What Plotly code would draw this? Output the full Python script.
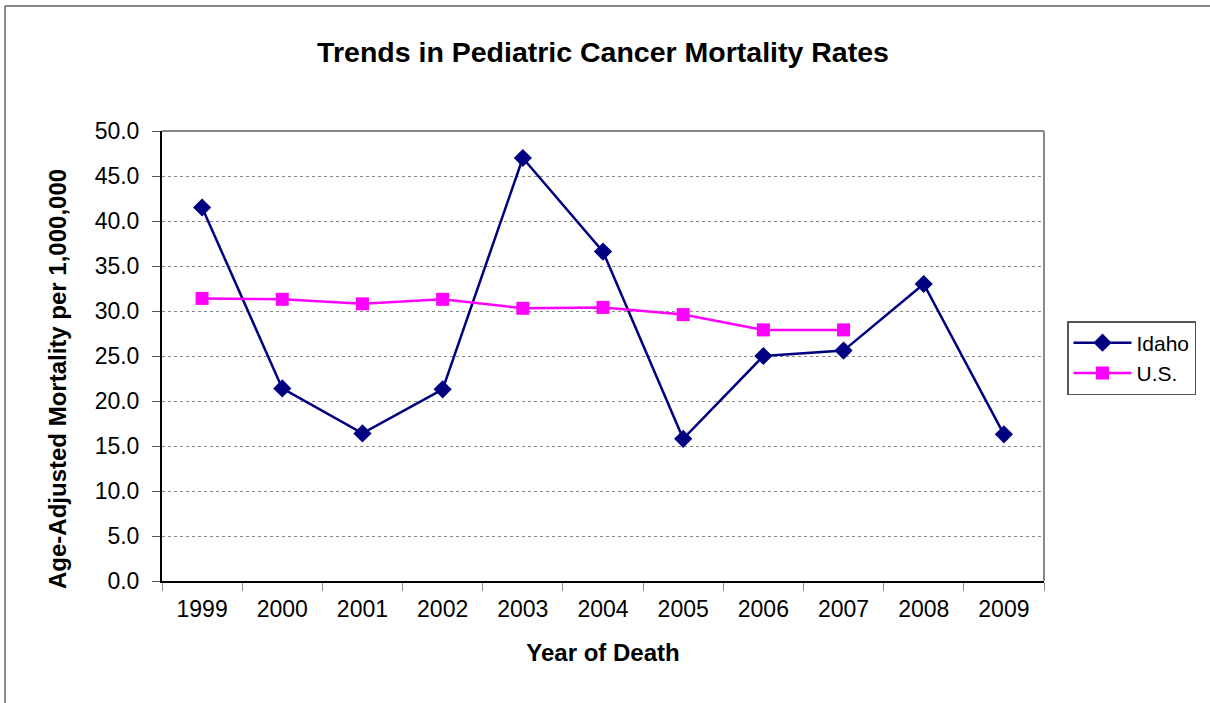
import plotly.graph_objects as go

years = ["1999", "2000", "2001", "2002", "2003", "2004", "2005", "2006", "2007", "2008", "2009"]
idaho = [41.5, 21.4, 16.4, 21.3, 47.0, 36.6, 15.8, 25.0, 25.6, 33.0, 16.3]
us_years = ["1999", "2000", "2001", "2002", "2003", "2004", "2005", "2006", "2007"]
us = [31.4, 31.3, 30.8, 31.3, 30.3, 30.4, 29.6, 27.9, 27.9]
y_ticks = [0, 5, 10, 15, 20, 25, 30, 35, 40, 45, 50]

FONT = "Liberation Sans, Arial, sans-serif"
W, H = 1210, 703
L, R, T, B = 162, 166, 131, 122
pw, ph = W - L - R, H - T - B


def px_x(p):
    return (p - L) / pw


def px_y(p):
    return 1 - (p - T) / ph


fig = go.Figure()
fig.add_trace(go.Scatter(
    x=years, y=idaho, name="Idaho", mode="lines+markers",
    line=dict(color="#000080", width=2.5),
    marker=dict(symbol="diamond", size=14, color="#000080"),
))
fig.add_trace(go.Scatter(
    x=us_years, y=us, name="U.S.", mode="lines+markers",
    line=dict(color="#FF00FF", width=2.5),
    marker=dict(symbol="square", size=13, color="#FF00FF"),
))

fig.update_layout(
    width=W, height=H,
    margin=dict(l=L, r=R, t=T, b=B),
    paper_bgcolor="white", plot_bgcolor="white",
    font=dict(family=FONT, color="black"),
    title=dict(text="<b>Trends in Pediatric Cancer Mortality Rates</b>",
               x=0.5, xref="paper", y=1 - 52 / H, yref="container",
               xanchor="center", yanchor="middle",
               font=dict(size=28.5, family=FONT, color="black")),
    legend=dict(x=px_x(1067), y=px_y(321),
                xanchor="left", yanchor="top",
                bordercolor="#555555", borderwidth=1.5,
                font=dict(size=21, family=FONT, color="black"),
                tracegroupgap=0, itemwidth=58),
    showlegend=True,
)

fig.update_xaxes(
    type="category", categoryorder="array", categoryarray=years,
    range=[-0.5, len(years) - 0.5],
    tickson="boundaries", ticks="outside", ticklen=8, tickcolor="#888888",
    showline=True, linecolor="black", linewidth=2,
    showgrid=False, ticklabelstandoff=6,
    tickfont=dict(size=23, family=FONT, color="black"),
    title=dict(text="<b>Year of Death</b>", font=dict(size=24, family=FONT, color="black"), standoff=24),
)
fig.update_yaxes(
    range=[0, 50], tickvals=y_ticks, tickformat=".1f",
    ticks="outside", ticklen=8, tickcolor="#555555",
    showline=True, linecolor="black", linewidth=2,
    showgrid=True, gridcolor="#888888", griddash="dot", gridwidth=1,
    zeroline=False, ticklabelstandoff=8,
    tickfont=dict(size=23, family=FONT, color="black"),
)

# y-axis title placed as in the reference (slightly below centre)
fig.add_annotation(text="<b>Age-Adjusted Mortality per 1,000,000</b>",
                   xref="paper", yref="paper", x=px_x(57), y=px_y(379),
                   xanchor="center", yanchor="middle", textangle=-90,
                   showarrow=False, font=dict(size=24, family=FONT, color="black"))

# plot-area top and right borders (gray)
fig.add_shape(type="line", xref="paper", yref="paper", x0=0, x1=1, y0=1, y1=1,
              line=dict(color="#888888", width=2))
fig.add_shape(type="line", xref="paper", yref="paper", x0=1, x1=1, y0=0, y1=1,
              line=dict(color="#888888", width=2))
# outer chart border (top and left visible in the frame)
fig.add_shape(type="line", xref="paper", yref="paper",
              x0=px_x(5), x1=px_x(W + 4), y0=px_y(6), y1=px_y(6),
              line=dict(color="#888888", width=2))
fig.add_shape(type="line", xref="paper", yref="paper",
              x0=px_x(5), x1=px_x(5), y0=px_y(6), y1=px_y(H + 4),
              line=dict(color="#666666", width=1.5))

fig.write_html("out.html", config={"displayModeBar": False},
               post_script="document.body.style.margin='0px';")
